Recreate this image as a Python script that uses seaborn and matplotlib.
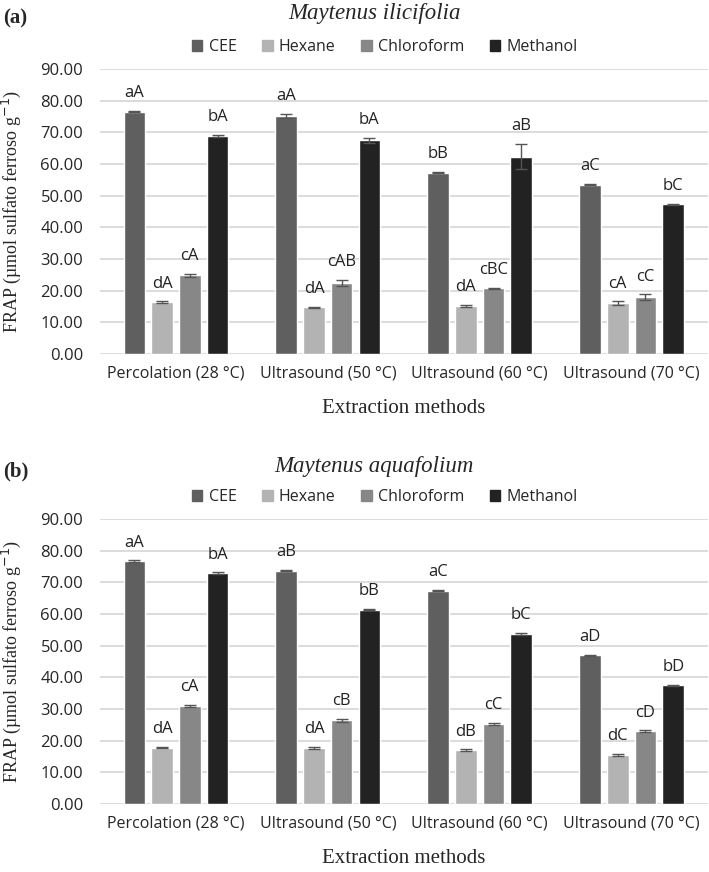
import matplotlib
matplotlib.use("Agg")
import matplotlib.pyplot as plt
import pandas as pd
import seaborn as sns

methods = ["Percolation (28 °C)", "Ultrasound (50 °C)", "Ultrasound (60 °C)", "Ultrasound (70 °C)"]
solvents = ["CEE", "Hexane", "Chloroform", "Methanol"]
colors = ["#5f5f5f", "#b3b3b3", "#878787", "#222222"]

# (a) Maytenus ilicifolia
a_cee = [76.5, 75.2, 57.2, 53.4]
a_hex = [16.4, 14.7, 15.3, 16.1]
a_chl = [24.8, 22.5, 20.7, 18.0]
a_met = [68.9, 67.5, 62.3, 47.3]
a_cee_err = [0.2, 0.6, 0.2, 0.2]
a_hex_err = [0.2, 0.2, 0.3, 0.5]
a_chl_err = [0.4, 1.0, 0.2, 0.8]
a_met_err = [0.3, 0.8, 4.0, 0.2]
a_cee_lab = ["aA", "aA", "bB", "aC"]
a_hex_lab = ["dA", "dA", "dA", "cA"]
a_chl_lab = ["cA", "cAB", "cBC", "cC"]
a_met_lab = ["bA", "bA", "aB", "bC"]

# (b) Maytenus aquafolium
b_cee = [76.7, 73.6, 67.3, 46.9]
b_hex = [17.8, 17.6, 17.0, 15.5]
b_chl = [31.0, 26.4, 25.3, 23.0]
b_met = [72.9, 61.3, 53.6, 37.5]
b_cee_err = [0.2, 0.2, 0.2, 0.2]
b_hex_err = [0.2, 0.4, 0.2, 0.4]
b_chl_err = [0.3, 0.5, 0.4, 0.2]
b_met_err = [0.2, 0.2, 0.3, 0.2]
b_cee_lab = ["aA", "aB", "aC", "aD"]
b_hex_lab = ["dA", "dA", "dB", "dC"]
b_chl_lab = ["cA", "cB", "cC", "cD"]
b_met_lab = ["bA", "bB", "bC", "bD"]

sns.set_theme(style="white")
SANS = ["Open Sans", "DejaVu Sans"]
SERIF = ["Liberation Serif", "DejaVu Serif"]
plt.rcParams["font.family"] = SANS


def make_frame(vals, errs, labs):
    rows = []
    for s, v, e, l in zip(solvents, vals, errs, labs):
        for m, vv, ee, ll in zip(methods, v, e, l):
            rows.append({"method": m, "solvent": s, "value": vv, "err": ee, "lab": ll})
    return pd.DataFrame(rows)


def draw_panel(fig, rect, frame, title, tag, tag_y, title_y, legend_y, xlabel_y):
    ax = fig.add_axes(rect)
    sns.barplot(
        data=frame, x="method", y="value", hue="solvent", hue_order=solvents,
        order=methods, palette=colors, width=0.73, gap=0.22, errorbar=None,
        saturation=1, ax=ax, legend=False,
    )
    for cont, s in zip(ax.containers, solvents):
        sub = frame[frame["solvent"] == s].set_index("method").loc[methods]
        for bar, v, e, l in zip(cont, sub["value"], sub["err"], sub["lab"]):
            xc = bar.get_x() + bar.get_width() / 2
            ax.errorbar(xc, v, yerr=e, color="#555555", capsize=4.5, elinewidth=1.0, capthick=1.0)
            ax.annotate(l, (xc, v + e), xytext=(0, 7), textcoords="offset points",
                        ha="center", va="bottom", fontsize=12, family=SANS, color="#222222")
    ax.set_ylim(0, 90)
    ax.set_yticks(range(0, 91, 10))
    ax.set_yticklabels([f"{t:.2f}" for t in range(0, 91, 10)], fontsize=12)
    ax.tick_params(axis="x", labelsize=11.5, length=0, pad=8)
    ax.tick_params(axis="y", length=0, pad=12)
    ax.grid(axis="y", color="#d9d9d9", linewidth=1.3)
    ax.set_axisbelow(True)
    for sp in ax.spines.values():
        sp.set_visible(False)
    ax.set_xlim(-0.5, 3.5)
    ax.set_xlabel("")
    ax.set_ylabel("FRAP (µmol sulfato ferroso g$^{-1}$)", family=SERIF, fontsize=13)
    ax.yaxis.set_label_coords(-0.127, 0.5)
    fig.text(0.005, tag_y, tag, family=SERIF, fontsize=15, fontweight="bold", va="center")
    fig.text(0.528, title_y, title, family=SERIF, fontsize=16.5, style="italic", ha="center", va="center")
    fig.text(0.57, xlabel_y, "Extraction methods", family=SERIF, fontsize=15, ha="center", va="center")
    handles = [plt.Rectangle((0, 0), 1, 1, color=c) for c in colors]
    fig.legend(handles, solvents, loc="center", bbox_to_anchor=(0.543, legend_y), ncol=4,
               frameon=False, fontsize=11.5, handlelength=0.65, handleheight=0.65,
               handletextpad=0.4, columnspacing=1.6)
    return ax


fig = plt.figure(figsize=(7.09, 8.72), dpi=100)
draw_panel(fig, [0.141, 0.594, 0.857, 0.327], make_frame(
    [a_cee, a_hex, a_chl, a_met], [a_cee_err, a_hex_err, a_chl_err, a_met_err],
    [a_cee_lab, a_hex_lab, a_chl_lab, a_met_lab]),
    "Maytenus ilicifolia", "(a)", 0.979, 0.985, 0.946, 0.532)
draw_panel(fig, [0.141, 0.078, 0.857, 0.327], make_frame(
    [b_cee, b_hex, b_chl, b_met], [b_cee_err, b_hex_err, b_chl_err, b_met_err],
    [b_cee_lab, b_hex_lab, b_chl_lab, b_met_lab]),
    "Maytenus aquafolium", "(b)", 0.459, 0.465, 0.430, 0.016)

fig.savefig("out.png", dpi=100)
